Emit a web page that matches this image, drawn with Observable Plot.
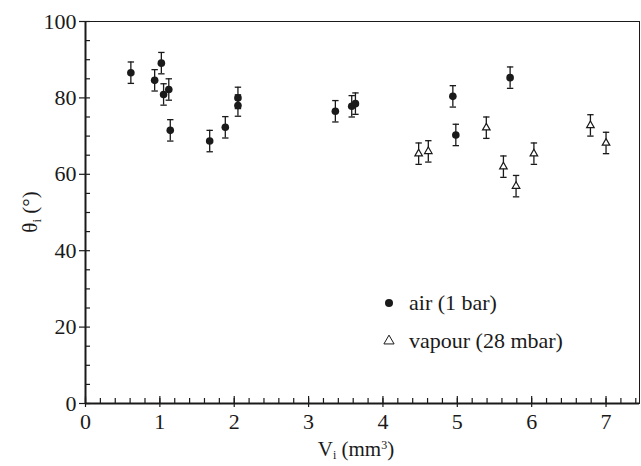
<!DOCTYPE html>
<html><head><meta charset="utf-8">
<script src="https://cdn.jsdelivr.net/npm/d3@7"></script>
<script src="https://cdn.jsdelivr.net/npm/@observablehq/plot@0.6"></script>
<style>body{margin:0;background:#fff}</style>
</head><body><div id="chart"></div>
<script>
// air (1 bar)
const airV     = [0.61, 1.02, 0.93, 1.05, 1.12, 1.14, 1.67, 1.88, 2.05, 2.05, 3.36, 3.58, 3.63, 4.94, 4.98, 5.71];
const airTheta = [86.6, 89.1, 84.6, 80.9, 82.2, 71.5, 68.7, 72.3, 80.0, 78.0, 76.5, 77.8, 78.5, 80.4, 70.3, 85.3];
const airErr   = [2.8, 2.8, 2.8, 2.8, 2.8, 2.8, 2.8, 2.8, 2.8, 2.8, 2.8, 2.8, 2.8, 2.8, 2.8, 2.8];
// vapour (28 mbar)
const vapV     = [4.48, 4.61, 5.39, 5.62, 5.79, 6.03, 6.79, 7.00];
const vapTheta = [65.4, 66.0, 72.2, 62.0, 56.9, 65.4, 72.8, 68.2];
const vapErr   = [2.8, 2.8, 2.8, 2.8, 2.8, 2.8, 2.8, 2.8];
// ticks
const xTicks = [0, 1, 2, 3, 4, 5, 6, 7];
const yTicks = [0, 20, 40, 60, 80, 100];
const xMinor = d3.range(0, 7.45, 0.2);
const yMinor = d3.range(0, 100.1, 5);
const legendLabels = ["air (1 bar)", "vapour (28 mbar)"];

const air = airV.map((v, i) => ({v, t: airTheta[i], e: airErr[i]}));
const vap = vapV.map((v, i) => ({v, t: vapTheta[i], e: vapErr[i]}));

const W = 641, H = 466, mL = 85, mR = 2, mT = 21, mB = 63;
const pw = W - mL - mR, ph = H - mT - mB;
const ink = "#1a1a1a";
const serif = "'Liberation Serif', 'DejaVu Serif', 'Times New Roman', serif";
const cap = {draw(ctx) { ctx.moveTo(-3.2, 0); ctx.lineTo(3.2, 0); }};

function bars(data) {
  return [
    Plot.ruleX(data, {x: "v", y1: d => d.t - d.e, y2: d => d.t + d.e, stroke: ink, strokeWidth: 1.3}),
    Plot.dot(data, {x: "v", y: d => d.t + d.e, symbol: cap, stroke: ink, strokeWidth: 1.3}),
    Plot.dot(data, {x: "v", y: d => d.t - d.e, symbol: cap, stroke: ink, strokeWidth: 1.3})
  ];
}

const chart = Plot.plot({
  width: W, height: H,
  marginLeft: mL, marginRight: mR, marginTop: mT, marginBottom: mB,
  x: {domain: [0, 7.45]},
  y: {domain: [0, 100]},
  style: {fontFamily: serif, fontSize: "21px", color: ink, background: "#fff"},
  marks: [
    Plot.frame({stroke: ink, strokeWidth: 1}),
    Plot.ruleX([0], {stroke: ink, strokeWidth: 2}),
    Plot.ruleY([0], {stroke: ink, strokeWidth: 2}),
    Plot.tickY(yMinor, {y: d => d, insetRight: pw - 5, stroke: ink, strokeWidth: 1.2}),
    Plot.tickY(yTicks, {y: d => d, insetRight: pw - 6, dx: -6, stroke: ink, strokeWidth: 1.2}),
    Plot.tickX(xMinor, {x: d => d, insetTop: ph - 5, stroke: ink, strokeWidth: 1.2}),
    Plot.tickX(xTicks, {x: d => d, insetTop: ph - 11, dy: 4, stroke: ink, strokeWidth: 1.2}),
    Plot.axisX({ticks: xTicks, tickSize: 0, tickPadding: 10, label: null, fontSize: 22}),
    Plot.axisY({ticks: yTicks, tickSize: 0, tickPadding: 9, label: null, fontSize: 22}),
    ...bars(air),
    ...bars(vap),
    Plot.dot(air, {x: "v", y: "t", r: 3.8, fill: ink, stroke: "none"}),
    Plot.dot(vap, {x: "v", y: "t", symbol: "triangle", r: 2.8, fill: "white", stroke: ink, strokeWidth: 1.2})
  ]
});

const svg = d3.select(chart);
// axis titles
const yl = svg.append("text")
  .attr("transform", "translate(37,212) rotate(-90)")
  .attr("text-anchor", "middle")
  .style("font-family", serif).style("font-size", "21px").attr("fill", ink);
yl.append("tspan").text("θ");
yl.append("tspan").attr("dy", 4).style("font-size", "13px").text("i");
yl.append("tspan").attr("dy", -4).text(" (°)");

const xl = svg.append("text")
  .attr("x", mL + pw / 2 - 6).attr("y", 456)
  .attr("text-anchor", "middle")
  .style("font-family", serif).style("font-size", "21px").attr("fill", ink);
xl.append("tspan").text("V");
xl.append("tspan").attr("dy", 3).style("font-size", "12px").text("i");
xl.append("tspan").attr("dy", -3).text(" (mm");
xl.append("tspan").attr("dy", -7).style("font-size", "12px").text("3");
xl.append("tspan").attr("dy", 7).text(")");

// legend
const lg = svg.append("g").style("font-family", serif).style("font-size", "22px").attr("text-anchor", "start");
lg.append("circle").attr("cx", 389).attr("cy", 303).attr("r", 4).attr("fill", ink);
lg.append("path").attr("d", d3.symbol(d3.symbolTriangle, 45)()).attr("transform", "translate(389,341)")
  .attr("fill", "white").attr("stroke", ink).attr("stroke-width", 1);
lg.append("text").attr("x", 409).attr("y", 310).attr("fill", ink).text(legendLabels[0]);
lg.append("text").attr("x", 409).attr("y", 348).attr("fill", ink).text(legendLabels[1]);

document.getElementById("chart").appendChild(chart);
</script>
</body></html>
